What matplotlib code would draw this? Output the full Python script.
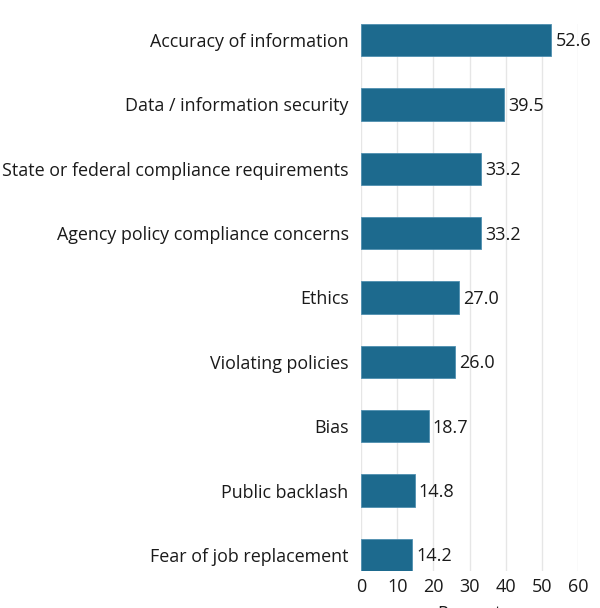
import matplotlib
matplotlib.use("Agg")
import matplotlib.pyplot as plt

categories = [
    "Accuracy of information",
    "Data / information security",
    "State or federal compliance requirements",
    "Agency policy compliance concerns",
    "Ethics",
    "Violating policies",
    "Bias",
    "Public backlash",
    "Fear of job replacement",
]
values = [52.6, 39.5, 33.2, 33.2, 27.0, 26.0, 18.7, 14.8, 14.2]
x_ticks = [0, 10, 20, 30, 40, 50, 60]

plt.rcParams["font.family"] = ["Open Sans", "DejaVu Sans"]

fig = plt.figure(figsize=(6.0, 6.08), dpi=100)
ax = fig.add_axes([0.6017, 0.0609, 0.3616, 0.8996])

pos = range(len(categories))
bars = ax.barh(pos, values, height=0.5, color="#1d6a8e",
               edgecolor="#4f8fb0", linewidth=0.6, zorder=3)
for bar, v in zip(bars, values):
    ax.annotate(f"{v:.1f}", (bar.get_width(), bar.get_y() + bar.get_height() / 2),
                xytext=(3, -1), textcoords="offset points", va="center", ha="left",
                fontsize=13, color="#1a1a1a")

ax.set_yticks(list(pos))
ax.set_yticklabels(categories, fontsize=12.9, color="#1a1a1a")
ax.set_ylim(len(categories) - 0.75, -0.25)
ax.set_xlim(0, 60)
ax.set_xticks(x_ticks)
ax.tick_params(axis="x", labelsize=13, length=0, pad=5, colors="#1a1a1a")
ax.tick_params(axis="y", length=0, pad=9)
ax.grid(axis="x", color="#e6e6e6", linewidth=1, zorder=0)
for s in ax.spines.values():
    s.set_visible(False)
ax.set_xlabel("Percent", fontsize=13, labelpad=6.5, color="#1a1a1a")

fig.savefig("out.png", dpi=100)
